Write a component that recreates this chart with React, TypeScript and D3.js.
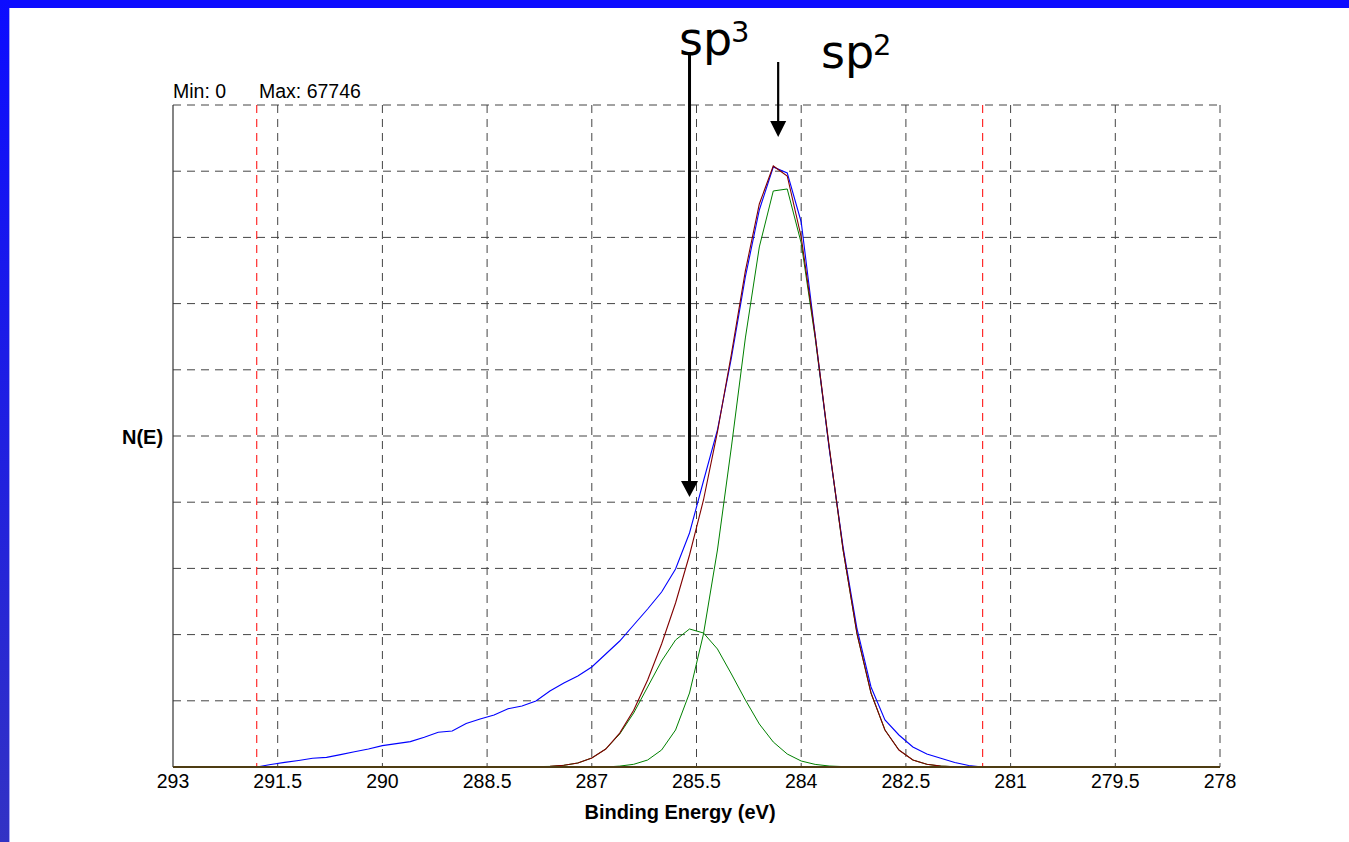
import React from 'react';
import * as d3 from 'd3';

// Binding energy sample points (eV), 0.2 eV steps inside the fit region
const energies = [
  291.8, 291.6, 291.4, 291.2, 291.0, 290.8, 290.6, 290.4, 290.2, 290.0,
  289.8, 289.6, 289.4, 289.2, 289.0, 288.8, 288.6, 288.4, 288.2, 288.0,
  287.8, 287.6, 287.4, 287.2, 287.0, 286.8, 286.6, 286.4, 286.2, 286.0,
  285.8, 285.6, 285.4, 285.2, 285.0, 284.8, 284.6, 284.4, 284.2, 284.0,
  283.8, 283.6, 283.4, 283.2, 283.0, 282.8, 282.6, 282.4, 282.2, 282.0,
  281.8, 281.6, 281.4,
];

// Measured spectrum (blue)
const measured = [
  0, 256, 471, 665, 890, 982, 1269, 1556, 1842, 2190,
  2395, 2599, 3039, 3561, 3684, 4452, 4912, 5322, 5966, 6243,
  6754, 7778, 8597, 9313, 10234, 11564, 12895, 14532, 16170, 17910,
  20263, 23948, 29269, 34489, 41857, 50147, 57003, 61404, 60790, 55775,
  44211, 32646, 22515, 14123, 8187, 4810, 3275, 2047, 1330, 890,
  461, 154, 0,
];

// Fit envelope (brown)
const fitEnvelope = [
  0, 0, 0, 0, 0, 0, 0, 0, 0, 0,
  0, 0, 0, 0, 0, 0, 0, 0, 0, 20,
  36, 61, 174, 409, 921, 1842, 3469, 5802, 8903, 12588,
  16784, 21696, 27325, 34284, 42267, 50761, 57618, 61507, 60483, 54240,
  44170, 32851, 22249, 13621, 7573, 3787, 1740, 716, 276, 92,
  31, 10, 0,
];

// sp2 component (green, large)
const sp2Component = [
  0, 0, 0, 0, 0, 0, 0, 0, 0, 0,
  0, 0, 0, 0, 0, 0, 0, 0, 0, 0,
  0, 0, 0, 0, 0, 0, 92, 276, 716, 1740,
  3787, 7573, 13611, 22208, 32749, 43904, 53217, 58948, 59153, 53626,
  43904, 32749, 22208, 13611, 7573, 3787, 1740, 716, 276, 92,
  31, 10, 0,
];

// sp3 component (green, small)
const sp3Component = [
  0, 0, 0, 0, 0, 0, 0, 0, 0, 0,
  0, 0, 0, 0, 0, 0, 0, 0, 0, 20,
  36, 61, 174, 409, 921, 1842, 3377, 5526, 8187, 10848,
  12997, 14123, 13714, 12076, 9518, 6857, 4401, 2559, 1330, 614,
  266, 102, 41, 10, 0, 0, 0, 0, 0, 0,
  0, 0, 0,
];

const xTicks = [293, 291.5, 290, 288.5, 287, 285.5, 284, 282.5, 281, 279.5, 278];
const xTickLabels = ['293', '291.5', '290', '288.5', '287', '285.5', '284', '282.5', '281', '279.5', '278'];
const regionBounds = [291.8, 281.4];
const yMin = 0;
const yMax = 67746;
const yDivisions = 10;
const sp3Energy = 285.6;
const sp2Energy = 284.33;

const W = 1349;
const H = 842;
const FONT = "'Liberation Sans', Arial, Helvetica, sans-serif";

export default function App() {
  const x = d3.scaleLinear().domain([293, 278]).range([173, 1220]);
  const y = d3.scaleLinear().domain([yMin, yMax]).range([767, 105]);

  const line = (vals: number[]) =>
    d3
      .line<number>()
      .x((_, i) => x(energies[i]))
      .y((d) => y(d))(vals) as string;

  const yGrid = d3.range(1, yDivisions + 1).map((k) => yMin + ((yMax - yMin) * k) / yDivisions);
  const dash = '8,6';
  const gridColor = '#444';

  const x3 = x(sp3Energy);
  const x2 = x(sp2Energy);

  return (
    <svg
      width={W}
      height={H}
      style={{ position: 'absolute', left: 0, top: 0, background: '#fff' }}
    >
      <defs>
        <linearGradient id="leftband" x1="0" y1="0" x2="0" y2="1">
          <stop offset="0" stopColor="#0c0cff" />
          <stop offset="1" stopColor="#3232c4" />
        </linearGradient>
      </defs>
      <rect x={0} y={0} width={W} height={H} fill="#fff" />
      <rect x={0} y={0} width={W} height={8} fill="#0c0cff" />
      <rect x={0} y={0} width={9} height={H} fill="url(#leftband)" />
      <rect x={9} y={8} width={1} height={H - 8} fill="#a8a8f4" />

      {/* horizontal grid */}
      {yGrid.map((v, i) => (
        <line
          key={'h' + i}
          x1={173}
          x2={1220}
          y1={y(v)}
          y2={y(v)}
          stroke={gridColor}
          strokeWidth={1}
          strokeDasharray={dash}
        />
      ))}
      {/* vertical grid */}
      {xTicks.slice(1).map((t, i) => (
        <line
          key={'v' + i}
          x1={x(t)}
          x2={x(t)}
          y1={105}
          y2={767}
          stroke={gridColor}
          strokeWidth={1}
          strokeDasharray={dash}
        />
      ))}
      {/* region bounds */}
      {regionBounds.map((e, i) => (
        <line
          key={'r' + i}
          x1={x(e)}
          x2={x(e)}
          y1={105}
          y2={767}
          stroke="#ff0000"
          strokeWidth={1}
          strokeDasharray={dash}
        />
      ))}
      {/* left axis */}
      <line x1={173} x2={173} y1={105} y2={767} stroke="#333" strokeWidth={1.2} />

      {/* curves */}
      <path d={line(sp3Component)} fill="none" stroke="#008000" strokeWidth={1} />
      <path d={line(sp2Component)} fill="none" stroke="#008000" strokeWidth={1} />
      <path d={line(measured)} fill="none" stroke="#0000ff" strokeWidth={1.1} />
      <path d={line(fitEnvelope)} fill="none" stroke="#800000" strokeWidth={1.1} />

      {/* bottom axis */}
      <line x1={173} x2={1220} y1={767} y2={767} stroke="#4e3c12" strokeWidth={2} />

      {/* tick labels */}
      {xTicks.map((t, i) => (
        <text
          key={'t' + i}
          x={x(t)}
          y={788}
          textAnchor="middle"
          fontFamily={FONT}
          fontSize={19.5}
          fill="#000"
        >
          {xTickLabels[i]}
        </text>
      ))}
      <text x={680} y={819} textAnchor="middle" fontFamily={FONT} fontSize={20} fontWeight="bold">
        Binding Energy (eV)
      </text>
      <text x={142.5} y={444} textAnchor="middle" fontFamily={FONT} fontSize={20} fontWeight="bold">
        N(E)
      </text>
      <text x={173} y={98} fontFamily={FONT} fontSize={19.5}>
        Min: 0
      </text>
      <text x={259} y={98} fontFamily={FONT} fontSize={19.5}>
        Max: 67746
      </text>

      {/* sp3 annotation */}
      <line x1={x3} x2={x3} y1={52} y2={484} stroke="#000" strokeWidth={3} />
      <polygon points={`${x3},497 ${x3 - 8.5},481 ${x3 + 8.5},481`} fill="#000" />
      <text x={679} y={55} fontFamily="'DejaVu Sans', Verdana, sans-serif" fontSize={46}>
        sp
      </text>
      <text x={731} y={42} fontFamily="'DejaVu Sans', Verdana, sans-serif" fontSize={29}>
        3
      </text>

      {/* sp2 annotation */}
      <line x1={x2} x2={x2} y1={62} y2={124} stroke="#000" strokeWidth={2.2} />
      <polygon points={`${x2},137 ${x2 - 8},121 ${x2 + 8},121`} fill="#000" />
      <text x={821} y={68} fontFamily="'DejaVu Sans', Verdana, sans-serif" fontSize={46}>
        sp
      </text>
      <text x={873} y={55} fontFamily="'DejaVu Sans', Verdana, sans-serif" fontSize={29}>
        2
      </text>
    </svg>
  );
}
